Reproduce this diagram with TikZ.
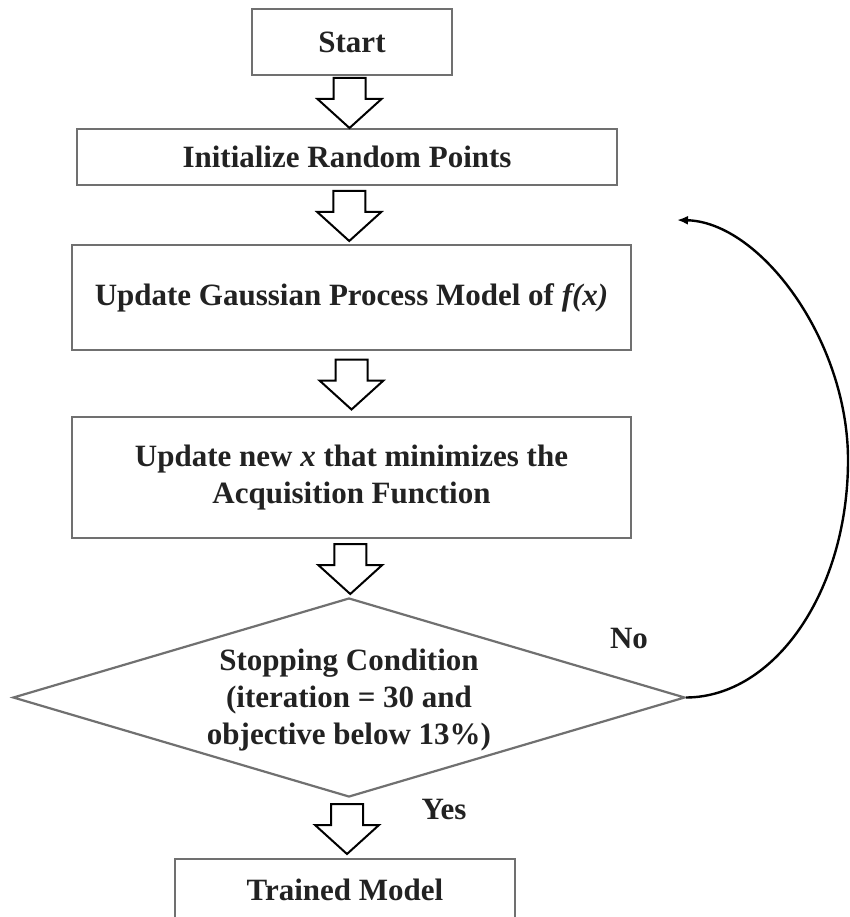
\documentclass[tikz,border=0pt]{standalone}
\usepackage{fontspec}
\setmainfont{Liberation Serif}
\usetikzlibrary{shapes.geometric,calc,arrows.meta}
\definecolor{edge}{HTML}{707070}
\definecolor{txt}{HTML}{222222}
% hollow block arrow between two nodes, centred in the gap between them
\newcommand\flowstep[2]{%
  \path ($(#1.south)!0.5!(#2.north)$) coordinate (m);
  \draw[blockarrow] (m) ++(-16,-24) -- ++(32,0) -- ++(0,21) -- ++(16,0)
    -- ++(-32,29) -- ++(-32,-29) -- ++(16,0) -- cycle;
}
\begin{document}
\begin{tikzpicture}[x=1pt,y=-1pt,
  every node/.style={font=\fontsize{31}{37}\selectfont\bfseries, text=txt},
  procbox/.style={draw=edge, line width=2.2pt, inner sep=0pt, align=center},
  decision/.style={draw=edge, line width=2.2pt, inner sep=0pt, diamond},
  blockarrow/.style={draw=black, fill=white, line width=2pt, line join=miter},
  loopback/.style={draw=black, line width=2.4pt, -{Latex[length=11pt,width=9pt]}},
]
\useasboundingbox (0,0) rectangle (849,917);
\fill[white] (0,0) rectangle (849,917);

\node[procbox, minimum width=200pt, minimum height=66pt] (start) at (352,42) {Start};
\node[procbox, minimum width=540pt, minimum height=56pt] (init) at (347,157) {Initialize Random Points};
\node[procbox, minimum width=559pt, minimum height=105pt] (gp) at (351.5,297.5)
  {Update Gaussian Process Model of \textit{f(x)}};
\node[procbox, minimum width=559pt, minimum height=121pt] (newx) at (351.5,477.5)
  {Update new \textit{x} that minimizes the\\Acquisition Function};
\node[decision, minimum width=672pt, minimum height=199pt] (cond) at (349,697.5) {};
\node[align=center] (condtext) at (349,700)
  {Stopping Condition\\ (iteration = 30 and\\objective below 13\%)};
\node[procbox, minimum width=340pt, minimum height=62pt] (done) at (345,890) {Trained Model};

\node (no) at (629,638) {No};
\node (yes) at (444,809) {Yes};

\flowstep{start}{init}
\flowstep{init}{gp}
\flowstep{gp}{newx}
\flowstep{newx}{cond}
\flowstep{cond}{done}

\coordinate (back) at (677,220);
\draw[loopback] (cond.east) .. controls (775,697) and (848,591) .. (848,460)
  .. controls (848,340) and (760,222) .. (back);
\end{tikzpicture}
\end{document}
